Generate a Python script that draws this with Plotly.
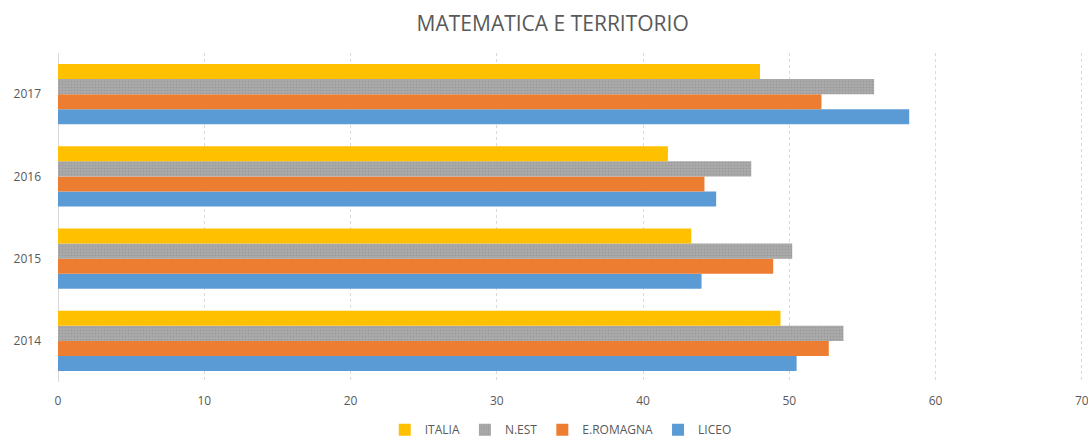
import plotly.graph_objects as go

years = ["2014", "2015", "2016", "2017"]
italia = [49.4, 43.3, 41.7, 48.0]
n_est = [53.7, 50.2, 47.4, 55.8]
e_romagna = [52.7, 48.9, 44.2, 52.2]
liceo = [50.5, 44.0, 45.0, 58.2]
x_ticks = [0, 10, 20, 30, 40, 50, 60, 70]

series = [
    ("LICEO", liceo, "#5B9BD5", None),
    ("E.ROMAGNA", e_romagna, "#ED7D31", None),
    ("N.EST", n_est, "#A5A5A5", dict(shape=".", size=3, solidity=0.35, fgcolor="#8a8a8a", bgcolor="#ababab")),
    ("ITALIA", italia, "#FFC000", None),
]

fig = go.Figure()
for name, vals, color, pattern in series:
    marker = dict(color=color, line=dict(width=0))
    if pattern:
        marker["pattern"] = pattern
    fig.add_trace(go.Bar(y=years, x=vals, name=name, orientation="h", marker=marker))

fig.update_layout(
    width=1088, height=439,
    barmode="group", bargap=0.27, bargroupgap=0,
    plot_bgcolor="white", paper_bgcolor="white",
    margin=dict(l=58, r=4, t=53, b=57, autoexpand=False),
    font=dict(family="Open Sans, sans-serif", color="#595959", size=12),
    title=dict(text="MATEMATICA E TERRITORIO", x=0.508, xanchor="center", y=0.946, yanchor="middle",
               yref="container", font=dict(size=21, color="#595959")),
    legend=dict(orientation="h", x=0.49, xanchor="center", y=-0.145, yanchor="middle",
                traceorder="reversed", font=dict(size=12, color="#595959"),
                itemwidth=30, itemsizing="constant"),
    showlegend=True,
)
fig.update_xaxes(range=[0, 70.15], tickvals=x_ticks, showgrid=True,
                 gridcolor="#d9d9d9", griddash="3px,3px",
                 zeroline=True, zerolinecolor="#d9d9d9", zerolinewidth=1, showline=False,
                 ticks="", ticklabelstandoff=10, automargin=False, ticklabeloverflow="allow",
                 tickfont=dict(size=12, color="#595959"))
fig.update_yaxes(showgrid=False, zeroline=False, showline=False, ticks="", automargin=False,
                 ticklabelstandoff=16, tickfont=dict(size=12, color="#595959"))

fig.write_html("out.html", config={"displayModeBar": False},
               post_script="document.body.style.margin='0';document.body.style.overflow='hidden';")
